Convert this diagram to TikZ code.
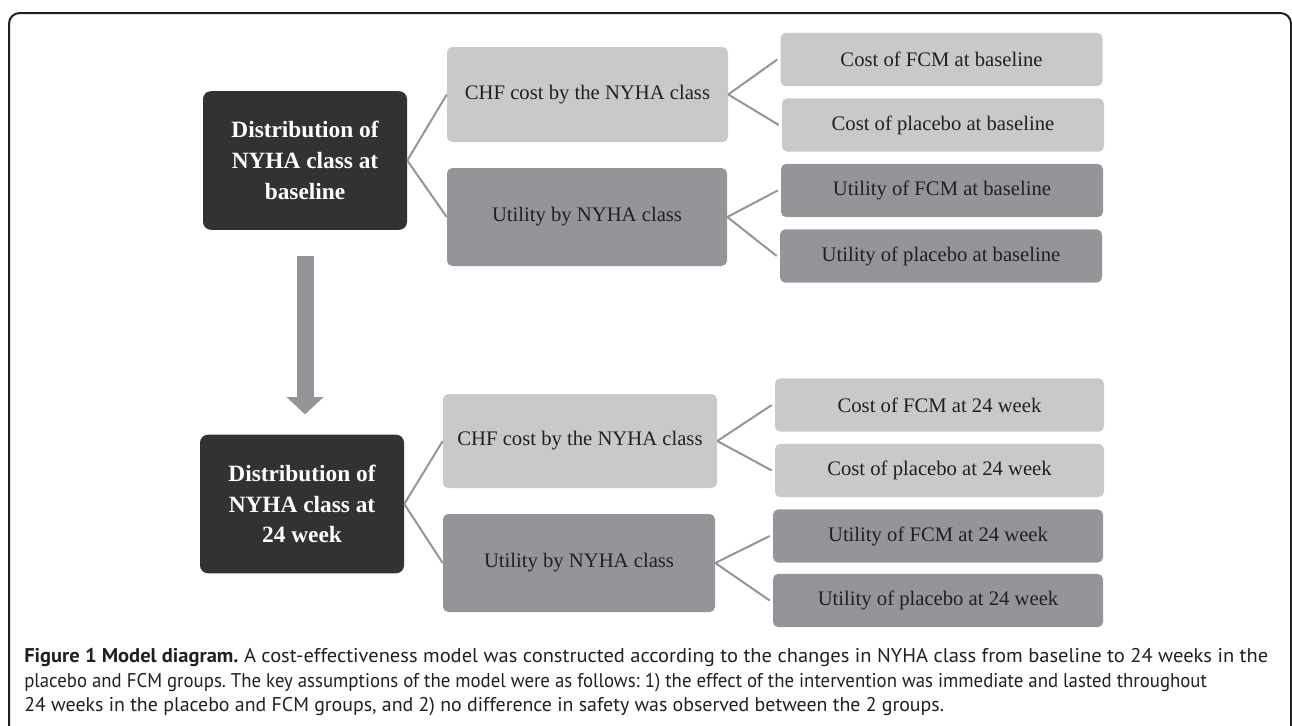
\documentclass[tikz,border=0pt]{standalone}
\usepackage{graphicx}
\usepackage{fontspec}
\setmainfont{Liberation Serif}
\newfontfamily\capfont{PT Sans}
\usetikzlibrary{arrows.meta,calc}
\definecolor{darkc}{HTML}{333132}
\definecolor{lightc}{HTML}{C8C9CB}
\definecolor{midc}{HTML}{939598}
\definecolor{txtc}{HTML}{231F20}
\definecolor{framec}{HTML}{231F20}
\newcommand{\capline}[2]{\resizebox{#1}{\height}{#2}}
\tikzset{
  darkbox/.style={fill=darkc, rounded corners=6pt, text=white, align=center,
    font=\bfseries\fontsize{17.5}{23}\selectfont, minimum width=153pt, minimum height=104pt, inner sep=0pt},
  costbox/.style={fill=lightc, rounded corners=4pt, text=txtc, align=center,
    font=\fontsize{15.5}{18}\selectfont, inner sep=0pt},
  utilbox/.style={costbox, fill=midc},
  leaf/.style={minimum width=241.5pt, minimum height=40pt},
  conn/.style={draw=midc, line width=1.5pt},
  caption/.style={anchor=base west, inner sep=0pt, text=txtc, font=\capfont\frenchspacing\fontsize{14.9}{18}\selectfont}
}
\begin{document}
\begin{tikzpicture}[x=0.75pt, y=-0.75pt]
\useasboundingbox (0,0) rectangle (1292,725);
% frame
\draw[framec, line width=1.5pt, rounded corners=8pt] (9,740) -- (9,13) -- (1291,13) -- (1291,740);
% main boxes
\node[darkbox] (d1) at (305,160.5) {Distribution of\\NYHA class at\\baseline};
\node[darkbox] (d2) at (302,504) {Distribution of\\NYHA class at\\24 week};
% middle boxes
\node[costbox, minimum width=210.75pt, minimum height=71.25pt] (c1) at (587.5,94.5) {CHF cost by the NYHA class};
\node[utilbox, minimum width=210pt, minimum height=73.5pt] (u1) at (587,217) {Utility by NYHA class};
\node[costbox, minimum width=205.5pt, minimum height=70.5pt] (c2) at (580,441) {CHF cost by the NYHA class};
\node[utilbox, minimum width=204pt, minimum height=73.5pt] (u2) at (579,563) {Utility by NYHA class};
% leaves
\node[costbox, leaf] (l1) at (941.5,59.5) {Cost of FCM at baseline};
\node[costbox, leaf] (l2) at (943,125) {Cost of placebo at baseline};
\node[utilbox, leaf] (l3) at (942,190.5) {Utility of FCM at baseline};
\node[utilbox, leaf] (l4) at (941,256) {Utility of placebo at baseline};
\node[costbox, leaf, minimum width=246.75pt] (l5) at (939.5,405) {Cost of FCM at 24 week};
\node[costbox, leaf, minimum width=246.75pt] (l6) at (939.5,470.5) {Cost of placebo at 24 week};
\node[utilbox, leaf, minimum width=247.5pt] (l7) at (938,536) {Utility of FCM at 24 week};
\node[utilbox, leaf, minimum width=247.5pt] (l8) at (938,600.5) {Utility of placebo at 24 week};
% connectors
\draw[conn] (d1.east) -- (c1.west);
\draw[conn] (d1.east) -- (u1.west);
\draw[conn] (d2.east) -- (c2.west);
\draw[conn] (d2.east) -- (u2.west);
\draw[conn] (c1.east) -- ($(l1.west)+(-3,0)$);
\draw[conn] (c1.east) -- ($(l2.west)+(-3,0)$);
\draw[conn] (u1.east) -- ($(l3.west)+(-3,0)$);
\draw[conn] (u1.east) -- ($(l4.west)+(-3,0)$);
\draw[conn] (c2.east) -- ($(l5.west)+(-3,0)$);
\draw[conn] (c2.east) -- ($(l6.west)+(-3,0)$);
\draw[conn] (u2.east) -- ($(l7.west)+(-3,0)$);
\draw[conn] (u2.east) -- ($(l8.west)+(-3,0)$);
% arrow
\draw[midc, line width=12.75pt, -{Triangle[width=27pt,length=13pt]}] ($(d1.south)+(0,26)$) -- ($(d1.south |- d2.north)+(0,-20)$);
% caption
\node[caption] (cap1) at (24,662) {\capline{933pt}{\textbf{Figure 1 Model diagram.} A cost-effectiveness model was constructed according to the changes in NYHA class from baseline to 24 weeks in the}};
\node[caption] (cap2) at (24,687) {\capline{887pt}{placebo and FCM groups. The key assumptions of the model were as follows: 1) the effect of the intervention was immediate and lasted throughout}};
\node[caption] (cap3) at (24,711) {24 weeks in the placebo and FCM groups, and 2) no difference in safety was observed between the 2 groups.};
\end{tikzpicture}
\end{document}
